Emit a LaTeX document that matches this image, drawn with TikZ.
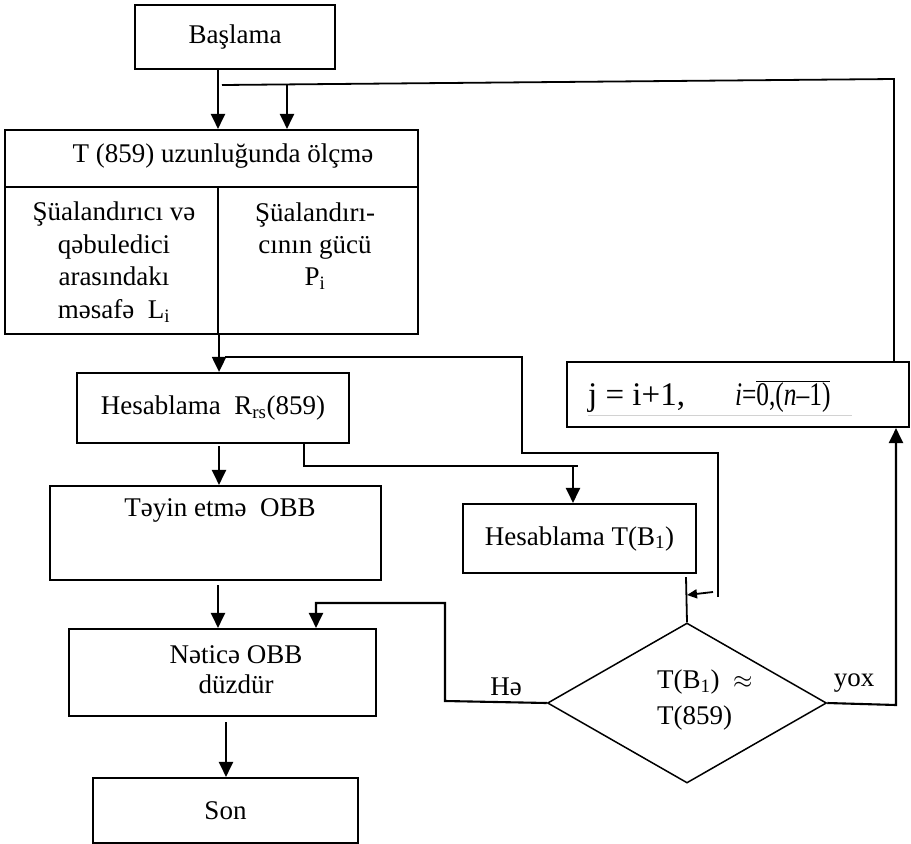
\documentclass[tikz,border=0pt]{standalone}
\usepackage{graphicx}
\usepackage{fontspec}
\setmainfont{Liberation Serif}
\usetikzlibrary{shapes.geometric,arrows.meta}
\begin{document}
\begin{tikzpicture}[x=1pt,y=-1pt,
  box/.style={draw,line width=2.1pt,rectangle,inner sep=0pt,font=\fontsize{27}{32}\selectfont},
  txt/.style={inner sep=0pt,font=\fontsize{27}{32}\selectfont,align=center},
  arr/.style={line width=2.1pt,-{Triangle[length=15pt,width=14pt]}},
  arrs/.style={line width=1.8pt,-{Triangle[length=10pt,width=9pt]}},
  conn/.style={line width=1.8pt},
  thinln/.style={line width=1.2pt}]
\useasboundingbox (0,0) rectangle (911,844);

% boxes
\node[box,minimum width=200pt,minimum height=64pt] (start) at (235,37) {Başlama};
\node[box,minimum width=413pt,minimum height=57pt] (meas) at (211.5,158.5) {};
\node[txt] (meastxt) at (223,156) {T (859) uzunluğunda ölçmə};
\node[box,minimum width=213pt,minimum height=147pt] (lsub) at (111.5,260.5) {};
\node[box,minimum width=200pt,minimum height=147pt] (rsub) at (318,260.5) {};
\node[txt,font=\fontsize{27}{32.5}\selectfont] (ltxt) at (114,262) {Şüalandırıcı və\\qəbuledici\\arasındakı\\məsafə\ \ L\textsubscript{i}};
\node[txt,font=\fontsize{27}{32}\selectfont] (rtxt) at (315,246) {Şüalandırı-\\cının gücü\\P\textsubscript{i}};
\node[box,minimum width=272pt,minimum height=70pt] (hesR) at (213,408) {Hesablama\ \ R\textsubscript{rs}(859)};
\node[box,minimum width=331pt,minimum height=94pt] (teyin) at (215.5,533) {};
\node[txt] (teyintxt) at (220,510) {Təyin etmə\ \ OBB};
\node[box,minimum width=307pt,minimum height=87pt] (netice) at (222.5,672.5) {};
\node[txt,font=\fontsize{27}{30}\selectfont] (neticetxt) at (236,670) {Nəticə OBB\\düzdür};
\node[box,minimum width=265pt,minimum height=65pt] (son) at (225.5,810.5) {Son};
\node[box,minimum width=233pt,minimum height=69pt] (hesT) at (579.5,538.5) {Hesablama T(B\textsubscript{1})};
\node[box,minimum width=342pt,minimum height=65pt] (jbox) at (738,394.5) {};
\node[txt,anchor=base west,font=\fontsize{33}{38}\selectfont] (jtxt) at (588,405) {j = i+1,\hspace{50pt}\scalebox{0.77}[1]{\textit{i}=$\overline{\mbox{0,(\textit{n}–1)}}$}};
\draw[gray!35,line width=0.6pt] (588,415) -- (852,415);
\node[draw,diamond,line width=1.5pt,minimum width=279pt,minimum height=160pt,inner sep=0pt] (dec) at (687,703) {};
\node[txt,anchor=west,align=left,font=\fontsize{27}{36}\selectfont] (dectxt) at (657,700) {T(B\textsubscript{1})\ \ $\approx$\\T(859)};
\node[txt] (yes) at (506,687) {Hə};
\node[txt] (no) at (854,683) {yox};

% coordinates
\coordinate (xA) at (218,0);
\coordinate (xB) at (219,0);
\coordinate (xC) at (226,0);
\coordinate (xD) at (686,0);
\coordinate (loopR) at (894,79);
\coordinate (loopL) at (222,85);
\coordinate (loopD) at (287,84.4);
\coordinate (t1) at (225,357);
\coordinate (t2) at (522,357);
\coordinate (t3) at (522,453);
\coordinate (t4) at (718,453);
\coordinate (t5) at (718,597);
\coordinate (t6) at (713,592);
\coordinate (m1) at (687,595);
\coordinate (r1) at (304,0);
\coordinate (r2) at (304,466);
\coordinate (r3) at (578,466);
\coordinate (r4) at (573,466);
\coordinate (h1) at (445,701);
\coordinate (h2) at (445,603);
\coordinate (h3) at (316,603);
\coordinate (y1) at (896,705);

% connectors
\draw[arr] (start.south -| xA) -- (meas.north -| xA);
\draw[conn] (jbox.north -| loopR) -- (loopR) -- (loopL);
\draw[arr] (loopD) -- (meas.north -| loopD);
\draw[arr] (lsub.south east) -- (hesR.north -| lsub.south east);
\draw[thinln] (t1) -- (t2) -- (t3) -- (t4) -- (t5);
\draw[arrs] (t6) -- (m1);
\draw[conn] (hesR.south -| r1) -- (r2) -- (r3);
\draw[arr] (r4) -- (hesT.north -| r4);
\draw[arr] ([yshift=-2pt]hesR.south -| xB) -- (teyin.north -| xB);
\draw[arr] ([yshift=-4pt]teyin.south -| xA) -- (netice.north -| xA);
\draw[arr] ([yshift=-5pt]netice.south -| xC) -- (son.north -| xC);
\draw[conn] ([yshift=-3pt]hesT.south -| xD) -- (dec.north);
\draw[arr] (dec.west) -- (h1) -- (h2) -- (h3) -- (netice.north -| h3);
\draw[arr] (dec.east) -- (y1) -- (jbox.south -| y1);
\end{tikzpicture}
\end{document}
